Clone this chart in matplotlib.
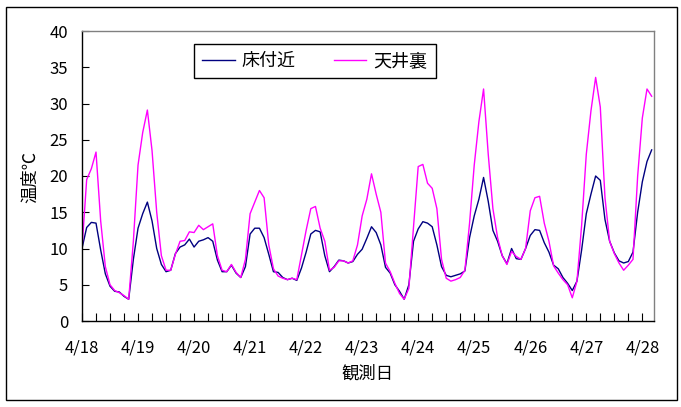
import matplotlib

matplotlib.use("Agg")
import matplotlib.pyplot as plt
import numpy as np
from matplotlib.patches import Rectangle

plt.rcParams['font.family'] = ['Noto Sans CJK JP', 'DejaVu Sans']

# hourly log, read every 2 hours starting 4/18 0:00
hours = np.arange(0, 245, 2)

floor_temp = [
    10.0, 12.9, 13.6, 13.5, 9.8, 6.5, 4.8, 4.1, 4.0, 3.4, 3.0, 8.5,
    12.8, 14.8, 16.4, 13.8, 10.0, 7.8, 6.8, 7.0, 9.3, 10.2, 10.5, 11.3,
    10.2, 11.0, 11.2, 11.5, 11.0, 8.4, 6.8, 6.8, 7.7, 6.6, 6.0, 7.5,
    12.0, 12.8, 12.8, 11.5, 9.2, 6.8, 6.7, 6.0, 5.7, 5.9, 5.6, 7.3,
    9.5, 12.0, 12.5, 12.3, 9.0, 6.8, 7.5, 8.4, 8.3, 8.0, 8.2, 9.2,
    9.9, 11.4, 13.0, 12.2, 10.5, 7.4, 6.6, 5.0, 4.1, 3.0, 5.0, 11.0,
    12.7, 13.7, 13.5, 13.0, 10.5, 7.5, 6.3, 6.1, 6.3, 6.5, 6.9, 11.5,
    14.5, 16.8, 19.8, 16.5, 12.5, 11.0, 9.0, 7.9, 10.0, 8.6, 8.5, 10.0,
    11.8, 12.6, 12.5, 10.8, 9.5, 7.7, 7.2, 6.0, 5.2, 4.2, 5.5, 9.8,
    14.8, 17.5, 20.0, 19.4, 14.0, 11.0, 9.4, 8.3, 8.0, 8.2, 9.5, 15.0,
    19.2, 22.0, 23.6,
]

attic_temp = [
    10.0, 19.5, 21.0, 23.3, 13.8, 7.5, 5.0, 4.2, 3.9, 3.5, 3.0, 11.0,
    21.5, 26.0, 29.1, 23.5, 15.0, 9.0, 7.0, 7.0, 9.2, 11.0, 11.1, 12.3,
    12.2, 13.2, 12.6, 13.0, 13.4, 9.0, 7.0, 6.8, 7.8, 6.7, 6.0, 8.5,
    14.8, 16.4, 18.0, 17.0, 10.5, 7.2, 6.2, 5.9, 5.7, 5.9, 5.7, 9.1,
    12.5, 15.5, 15.8, 12.8, 11.0, 7.0, 7.4, 8.3, 8.3, 8.0, 8.3, 10.5,
    14.5, 16.8, 20.3, 17.5, 15.0, 8.0, 6.8, 5.2, 3.8, 3.0, 4.5, 13.0,
    21.3, 21.6, 19.0, 18.3, 15.5, 8.5, 5.9, 5.5, 5.7, 6.0, 7.0, 13.5,
    21.5, 27.5, 32.0, 23.0, 15.5, 11.5, 9.0, 7.8, 9.6, 8.9, 8.5, 10.0,
    15.2, 17.0, 17.2, 13.5, 11.0, 7.6, 6.6, 5.7, 5.0, 3.2, 5.5, 13.2,
    23.0, 29.0, 33.6, 29.5, 17.0, 11.0, 9.3, 8.0, 7.0, 7.7, 8.5, 20.0,
    28.0, 32.0, 31.0,
]

day_labels = ['4/18', '4/19', '4/20', '4/21', '4/22', '4/23',
              '4/24', '4/25', '4/26', '4/27', '4/28']

W, H = 681, 407
fig = plt.figure(figsize=(W / 100, H / 100), dpi=100)
ax = fig.add_axes([82 / W, 1 - 321 / H, 572 / W, 290 / H])

ax.plot(hours, floor_temp, color='#000080', lw=1.0, label='床付近')
ax.plot(hours, attic_temp, color='#FF00FF', lw=1.0, label='天井裏')

ax.set_xlim(0, 245)
ax.set_ylim(0, 40)
ax.set_yticks(range(0, 41, 5))
ax.set_xticks(np.arange(0, 241, 24))
ax.set_xticklabels(day_labels)
ax.set_xticks(np.arange(0, 245, 6), minor=True)
ax.tick_params(axis='y', direction='in', length=5, width=0.8, labelsize=12, pad=10)
ax.tick_params(axis='x', which='both', direction='in', length=6, width=0.8,
               labelsize=12, pad=13)

for side in ('top', 'right'):
    ax.spines[side].set_color('#808080')
for side in ('left', 'bottom'):
    ax.spines[side].set_color('black')
for sp in ax.spines.values():
    sp.set_linewidth(1.0)

leg = ax.legend(loc='upper left', bbox_to_anchor=(194 / W, 1 - 44 / H),
                bbox_transform=fig.transFigure, ncol=2, fontsize=13,
                frameon=True, fancybox=False, framealpha=1, edgecolor='black',
                handlelength=1.8, handletextpad=0.4, columnspacing=2.1,
                borderpad=0.45, borderaxespad=0)
leg.get_frame().set_linewidth(1.0)

fig.text(30 / W, 1 - 177 / H, '温度℃', rotation=90, ha='center', va='center', fontsize=12.5)
fig.text(367 / W, 1 - 374 / H, '観測日', ha='center', va='center', fontsize=12.5)

fig.patches.append(Rectangle((6 / W, 7 / H), 671 / W, 393 / H, transform=fig.transFigure,
                             fill=False, edgecolor='black', lw=1.0))

fig.savefig('out.png', dpi=100)
